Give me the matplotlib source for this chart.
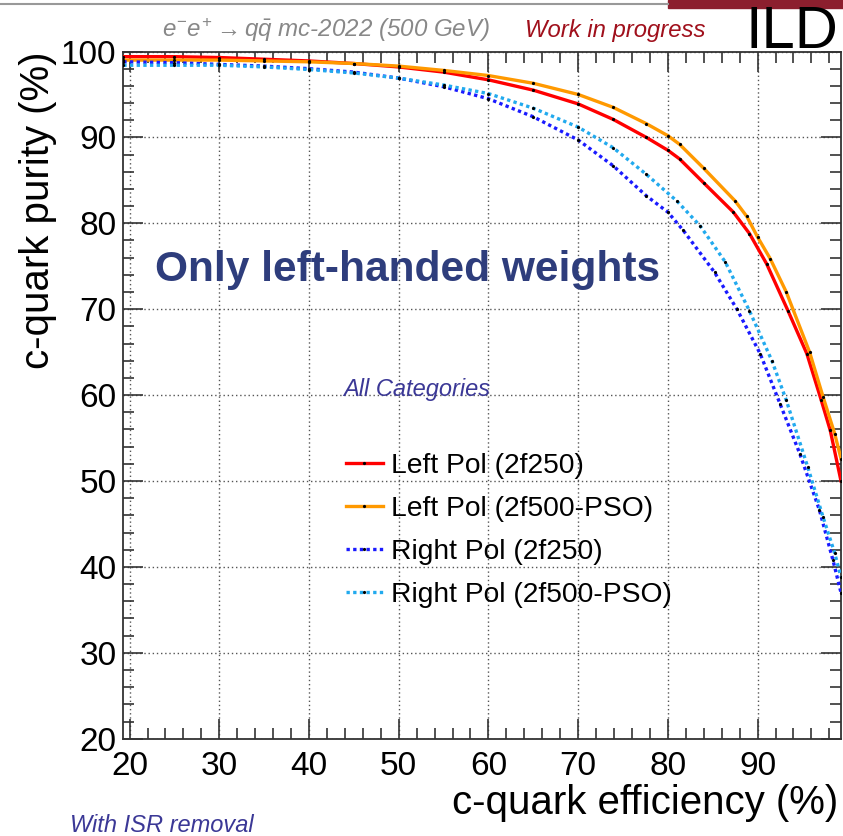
import matplotlib
matplotlib.use("Agg")
import matplotlib.pyplot as plt
from matplotlib.ticker import MultipleLocator
from matplotlib.patches import Rectangle
from matplotlib.lines import Line2D

plt.rcParams["font.family"] = ["Liberation Sans", "DejaVu Sans"]
plt.rcParams["mathtext.fontset"] = "custom"
plt.rcParams["mathtext.rm"] = "Liberation Sans"
plt.rcParams["mathtext.it"] = "Liberation Sans:italic"

# c-tag efficiency vs purity curves (%)
eff_left_250 = [19.3, 25, 30, 35, 40, 45, 50, 55, 60, 65, 70, 73.9, 77.6, 80, 81.3,
                84, 87.3, 89.1, 91.0, 93.4, 95.5, 97.1, 98.1, 99.3]
pur_left_250 = [99.4, 99.4, 99.3, 99.1, 98.9, 98.6, 98.2, 97.6, 96.7, 95.5, 93.9, 92.1, 90.0, 88.5, 87.5,
                84.7, 81.3, 78.8, 75.3, 69.8, 64.8, 59.4, 55.9, 50.0]

eff_left_500 = [19.3, 25, 30, 35, 40, 45, 50, 55, 60, 65, 70, 73.9, 77.6, 80, 81.3,
                84, 87.5, 88.8, 90, 91.4, 93.2, 95.8, 97.3, 98.6, 99.3]
pur_left_500 = [99.0, 99.0, 99.0, 98.9, 98.8, 98.6, 98.3, 97.8, 97.2, 96.3, 95.0, 93.5, 91.6, 90.2, 89.2,
                86.4, 82.6, 80.8, 78.4, 75.9, 72.0, 65.0, 59.8, 55.5, 52.6]

eff_right_250 = [19.3, 25, 30, 35, 40, 45, 50, 55, 60, 65, 70, 73.9, 77.6, 80, 81.7,
                 85.2, 87.7, 90.3, 92.5, 94.7, 96.9, 98.4, 99.3]
pur_right_250 = [98.8, 98.7, 98.5, 98.3, 98.0, 97.6, 96.9, 95.9, 94.5, 92.4, 89.7, 86.7, 83.2, 81.3, 79.2,
                 74.3, 70.0, 64.8, 59.0, 53.2, 46.6, 40.8, 37.0]

eff_right_500 = [19.3, 25, 30, 35, 40, 45, 50, 55, 60, 65, 70, 73.9, 77.6, 81.0, 83.6,
                 86.4, 89.1, 91.6, 93.2, 95.6, 97.3, 98.6, 99.3]
pur_right_500 = [98.4, 98.4, 98.4, 98.2, 97.9, 97.5, 96.9, 96.1, 95.1, 93.4, 91.2, 88.8, 85.7, 82.6, 79.7,
                 75.5, 69.8, 64.0, 59.4, 51.6, 45.8, 41.6, 38.8]

labels = ["Left Pol (2f250)", "Left Pol (2f500-PSO)", "Right Pol (2f250)", "Right Pol (2f500-PSO)"]

W, H = 843, 836
fig = plt.figure(figsize=(W / 100, H / 100), dpi=100)
ax = fig.add_axes([123.3 / W, 1 - 738.7 / H, (841 - 123.3) / W, (738.7 - 51.5) / H])

dot = (0, (1, 1))
curves = [
    (eff_left_250, pur_left_250, "#ff0000", "-"),
    (eff_left_500, pur_left_500, "#ff9900", "-"),
    (eff_right_250, pur_right_250, "#1a1aff", dot),
    (eff_right_500, pur_right_500, "#22aaee", dot),
]
handles = []
for (x, y, c, ls), lab in zip(curves, labels):
    ax.plot(x, y, color=c, lw=2.4, ls=ls, zorder=3)
    ax.plot(x, y, ls="none", marker="o", ms=1.3, color="black", zorder=4)
    handles.append(Line2D([], [], color=c, lw=2.4, ls=ls, marker="o", ms=1.3,
                          mfc="black", mec="black", label=lab))

ax.set_xlim(19.3, 99.3)
ax.set_ylim(20, 100)
ax.xaxis.set_major_locator(MultipleLocator(10))
ax.xaxis.set_minor_locator(MultipleLocator(2))
ax.yaxis.set_major_locator(MultipleLocator(10))
ax.yaxis.set_minor_locator(MultipleLocator(2))
ax.tick_params(which="both", direction="in", top=True, right=True, width=1.2, color="#333333")
ax.tick_params(which="major", length=14.5, labelsize=24, pad=5)
ax.tick_params(which="minor", length=8)
ax.tick_params(axis="x", which="major", pad=9)
ax.grid(True, which="major", ls=(0, (1, 2)), color="#555555", lw=1)
for s in ax.spines.values():
    s.set_linewidth(1.3)
    s.set_color("#333333")

fig.text(838 / W, 1 - 803 / H, "c-quark efficiency (%)", ha="right", va="center", fontsize=29)
fig.text(38 / W, 1 - 210 / H, "c-quark purity (%)", ha="center", va="center", fontsize=29, rotation=90)

ax.legend(handles=handles, loc="upper left",
          bbox_to_anchor=((346 - 123.3) / (841 - 123.3), (738.7 - 453) / (738.7 - 51.5)),
          frameon=False, fontsize=20.3, handlelength=1.3, handletextpad=0.3, labelspacing=0.6,
          borderaxespad=0, borderpad=0)

fig.text(155 / W, 1 - 270 / H, "Only left-handed weights", fontsize=30.6, fontweight="bold",
         color="#2e3d7c", ha="left", va="center")
fig.text(343 / W, 1 - 390 / H, "All Categories", fontsize=17, style="italic",
         color="#3b3896", ha="left", va="center")
fig.text(70 / W, 1 - 825 / H, "With ISR removal", fontsize=17, style="italic",
         color="#3b3896", ha="left", va="center")

fig.text(326 / W, 1 - 30 / H, r"$e^{-}e^{+} \rightarrow q\bar{q}$ mc-2022 (500 GeV)", fontsize=17.4,
         style="italic", color="#888888", ha="center", va="center")
fig.text(525 / W, 1 - 30 / H, "Work in progress", fontsize=17.2, style="italic",
         color="#a0101c", ha="left", va="center")
fig.text(838 / W, 1 - 32 / H, "ILD", fontsize=43, color="black", ha="right", va="center")

# slide header strip
fig.add_artist(Line2D([0, 668 / W], [1 - 4 / H, 1 - 4 / H], color="#999999", lw=1.5,
                      transform=fig.transFigure))
fig.add_artist(Rectangle((668 / W, 1 - 8 / H), (W - 668) / W, 8 / H, color="#8c1f2e",
                         transform=fig.transFigure))

fig.savefig("out.png", dpi=100)
